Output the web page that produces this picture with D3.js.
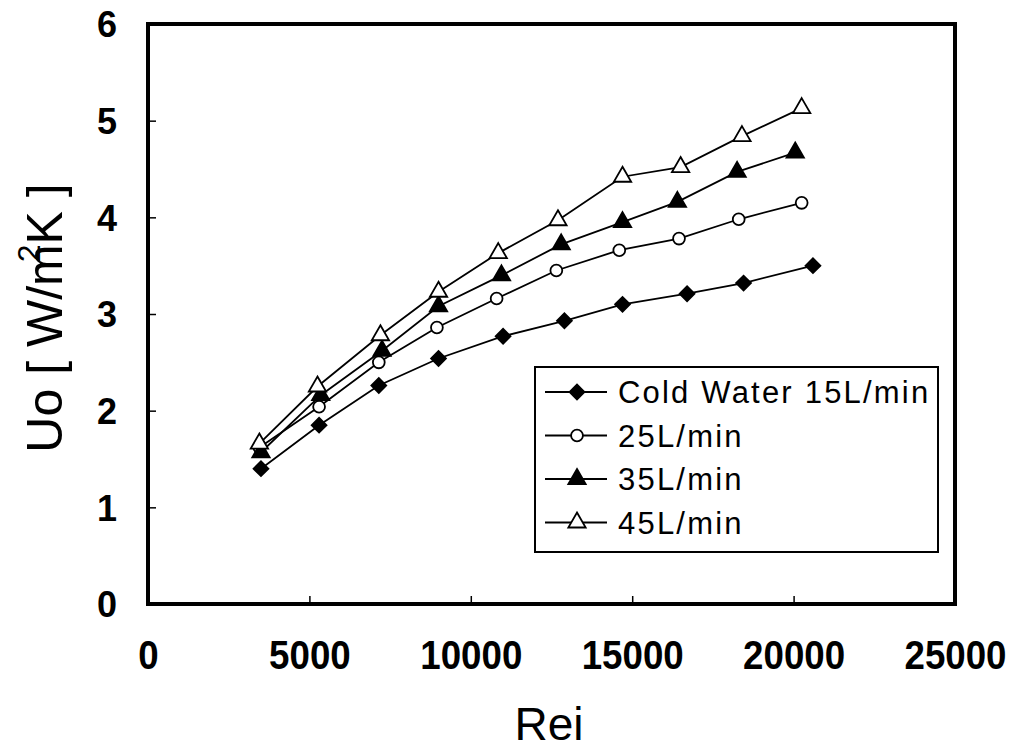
<!DOCTYPE html>
<html>
<head>
<meta charset="utf-8">
<script src="https://cdn.jsdelivr.net/npm/d3@7"></script>
<style>
  html, body { margin: 0; padding: 0; background: #fff; overflow: hidden; }
  svg { display: block; }
  .tick text { font-family: "Liberation Sans", Arial, sans-serif; font-weight: bold; fill: #000; }
  .axis-label { font-family: "Liberation Sans", Arial, sans-serif; fill: #000; }
  .legend text { font-family: "Liberation Sans", Arial, sans-serif; font-size: 31px; letter-spacing: 2.2px; fill: #000; }
</style>
</head>
<body>
<div id="chart"></div>
<script>
// data
const rei15 = [3500, 5300, 7150, 9000, 11000, 12900, 14700, 16700, 18450, 20600];
const uo15  = [1.40, 1.85, 2.26, 2.54, 2.77, 2.93, 3.10, 3.21, 3.32, 3.50];
const rei25 = [3450, 5300, 7150, 8950, 10800, 12650, 14600, 16450, 18300, 20250];
const uo25  = [1.62, 2.04, 2.50, 2.86, 3.16, 3.45, 3.66, 3.78, 3.98, 4.15];
const rei35 = [3500, 5350, 7250, 9000, 10950, 12800, 14700, 16400, 18250, 20050];
const uo35  = [1.57, 2.16, 2.62, 3.08, 3.40, 3.72, 3.95, 4.16, 4.47, 4.67];
const rei45 = [3450, 5250, 7200, 9000, 10850, 12700, 14700, 16500, 18400, 20250];
const uo45  = [1.66, 2.25, 2.78, 3.23, 3.63, 3.97, 4.42, 4.52, 4.84, 5.13];
const seriesNames = ['Cold Water 15L/min', '25L/min', '35L/min', '45L/min'];
const xTicks = [0, 5000, 10000, 15000, 20000, 25000];
const yTicks = [0, 1, 2, 3, 4, 5, 6];

const series = [
    {name: seriesNames[0], x: rei15, y: uo15, shape: 'diamond', fill: '#000'},
    {name: seriesNames[1], x: rei25, y: uo25, shape: 'circle', fill: '#fff'},
    {name: seriesNames[2], x: rei35, y: uo35, shape: 'triangle', fill: '#000'},
    {name: seriesNames[3], x: rei45, y: uo45, shape: 'triangle', fill: '#fff'}
];

const width = 1011, height = 745;
const margin = {top: 24, right: 56, bottom: 141, left: 148};
const innerWidth = width - margin.left - margin.right;
const innerHeight = height - margin.top - margin.bottom;

const svg = d3.select('#chart').append('svg')
    .attr('width', width)
    .attr('height', height);

const g = svg.append('g')
    .attr('transform', `translate(${margin.left},${margin.top})`);

const xScale = d3.scaleLinear().domain([0, 25000]).range([0, innerWidth]);
const yScale = d3.scaleLinear().domain([0, 6]).range([innerHeight, 0]);

const xAxis = d3.axisBottom(xScale).tickValues(xTicks).tickSize(-8).tickPadding(37).tickFormat(d3.format('d'));
const yAxis = d3.axisLeft(yScale).tickValues(yTicks).tickSize(-8).tickPadding(31).tickFormat(d3.format('d'));

const xAxisG = g.append('g').attr('transform', `translate(0,${innerHeight})`).call(xAxis);
const yAxisG = g.append('g').call(yAxis);
xAxisG.select('.domain').remove();
yAxisG.select('.domain').remove();
g.selectAll('.tick line').attr('stroke', '#000').attr('stroke-width', 1.5);
xAxisG.selectAll('.tick').filter(d => d === 0 || d === 25000).select('line').remove();
yAxisG.selectAll('.tick').filter(d => d === 0 || d === 6).select('line').remove();
xAxisG.selectAll('.tick text')
    .attr('font-size', 40)
    .attr('textLength', d => String(d).length * 20.4)
    .attr('lengthAdjust', 'spacingAndGlyphs');
yAxisG.selectAll('.tick text').attr('font-size', 36).attr('dy', '0.36em');

// frame
g.append('rect')
    .attr('width', innerWidth)
    .attr('height', innerHeight)
    .attr('fill', 'none')
    .attr('stroke', '#000')
    .attr('stroke-width', 4);

const symbolOf = s => {
    if (s.shape === 'diamond') return d3.symbol().type(d3.symbolSquare).size(110)();
    if (s.shape === 'circle') return d3.symbol().type(d3.symbolCircle).size(110)();
    return d3.symbol().type(d3.symbolTriangle).size(130)();
};
const rotOf = s => s.shape === 'diamond' ? ' rotate(45)' : '';

const lineGenerator = d3.line()
    .x(d => xScale(d[0]))
    .y(d => yScale(d[1]));

series.forEach(s => {
    const pts = s.x.map((v, i) => [v, s.y[i]]);
    g.append('path')
        .attr('d', lineGenerator(pts))
        .attr('fill', 'none')
        .attr('stroke', '#000')
        .attr('stroke-width', 1.8);
    g.selectAll(null).data(pts).enter().append('path')
        .attr('d', symbolOf(s))
        .attr('transform', d => `translate(${xScale(d[0])},${yScale(d[1])})` + rotOf(s))
        .attr('fill', s.fill)
        .attr('stroke', '#000')
        .attr('stroke-width', 1.8);
});

// legend
const legend = svg.append('g').attr('class', 'legend').attr('transform', 'translate(535,367)');
legend.append('rect')
    .attr('width', 403)
    .attr('height', 185)
    .attr('fill', '#fff')
    .attr('stroke', '#000')
    .attr('stroke-width', 2);
series.forEach((s, i) => {
    const y = 25 + i * 43.5;
    legend.append('line')
        .attr('x1', 10).attr('x2', 72)
        .attr('y1', y).attr('y2', y)
        .attr('stroke', '#000').attr('stroke-width', 1.8);
    legend.append('path')
        .attr('d', symbolOf(s))
        .attr('transform', `translate(42,${y})` + rotOf(s))
        .attr('fill', s.fill)
        .attr('stroke', '#000')
        .attr('stroke-width', 1.8);
    legend.append('text')
        .attr('x', 83)
        .attr('y', y)
        .attr('dy', '0.36em')
        .text(s.name);
});

// axis titles
svg.append('text')
    .attr('class', 'axis-label')
    .attr('x', 549)
    .attr('y', 740)
    .attr('font-size', 46)
    .attr('text-anchor', 'middle')
    .text('Rei');

const yLabel = svg.append('text')
    .attr('class', 'axis-label')
    .attr('font-size', 50)
    .attr('transform', 'translate(62,318) rotate(-90)')
    .attr('text-anchor', 'middle');
yLabel.append('tspan').text('Uo [ W/m');
yLabel.append('tspan').attr('dy', -22).attr('dx', -18).attr('font-size', 32).text('2');
yLabel.append('tspan').attr('dy', 22).text('K ]');
</script>
</body>
</html>
